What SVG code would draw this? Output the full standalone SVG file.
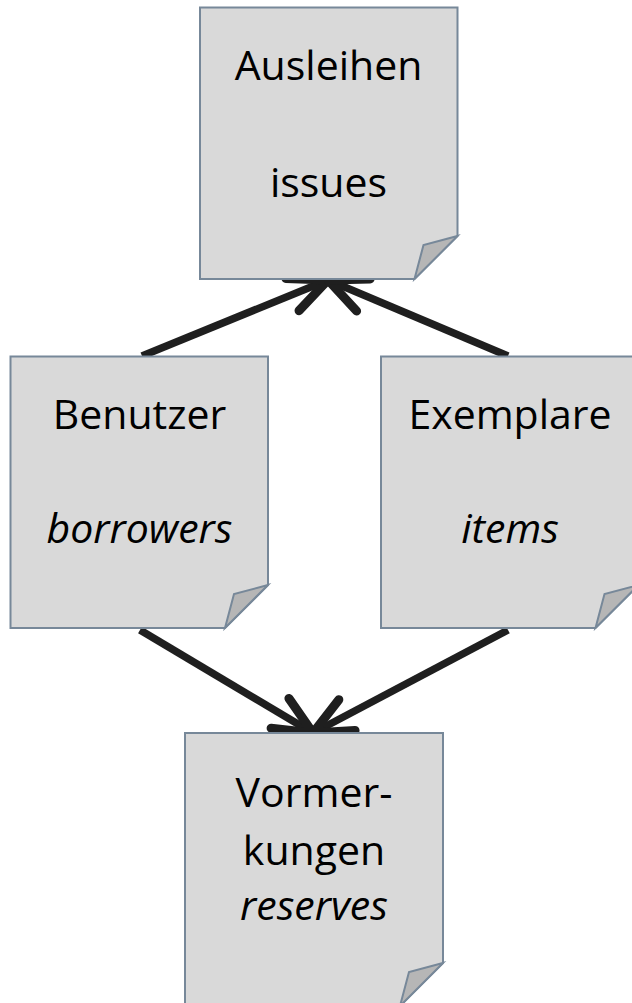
<svg xmlns="http://www.w3.org/2000/svg" width="632" height="1003" viewBox="0 0 632 1003">
  <style>
    .box { fill: #d9d9d9; stroke: #778899; stroke-width: 2; stroke-linejoin: miter; }
    .fold { fill: #b6b6b6; stroke: #778899; stroke-width: 2; stroke-linejoin: miter; }
    .t { font-family: "Open Sans", "Liberation Sans", sans-serif; font-size: 41px; fill: #000; text-anchor: middle; }
    .it { font-style: italic; }
    .conn { stroke: #1f1f1f; stroke-width: 7.5; fill: none; marker-end: url(#arrow); }
  </style>
  <defs>
    <marker id="arrow" markerUnits="userSpaceOnUse" orient="auto" refX="0" refY="0" markerWidth="60" markerHeight="60" viewBox="-40 -20 50 40" overflow="visible">
      <path d="M-32,-14.5 L0,0 L-32,14.5" fill="none" stroke="#1f1f1f" stroke-width="7.5" stroke-linecap="round" stroke-linejoin="round"/>
    </marker>
  </defs>

  <g id="connectors">
    <line class="conn" x1="142" y1="356" x2="328" y2="280"/>
    <line class="conn" x1="508" y1="356" x2="328" y2="280"/>
    <line class="conn" x1="140" y1="630" x2="313" y2="733"/>
    <line class="conn" x1="508" y1="630" x2="313" y2="733"/>
  </g>

  <g id="ausleihen">
    <path class="box" d="M200,7.5 H457.5 V236 L414.5,279 H200 Z"/>
    <path class="fold" d="M414.5,279 L423.5,245 L457.5,236 Z"/>
    <text class="t" x="328.5" y="80">Ausleihen</text>
    <text class="t" x="328.5" y="197">issues</text>
  </g>

  <g id="benutzer">
    <path class="box" d="M10.5,356.5 H268 V585 L225,628 H10.5 Z"/>
    <path class="fold" d="M225,628 L234,594 L268,585 Z"/>
    <text class="t" x="139.5" y="429">Benutzer</text>
    <text class="t it" x="139.5" y="543">borrowers</text>
  </g>

  <g id="exemplare">
    <path class="box" d="M381,356.5 H638.5 V585 L595.5,628 H381 Z"/>
    <path class="fold" d="M595.5,628 L604.5,594 L638.5,585 Z"/>
    <text class="t" x="510" y="429">Exemplare</text>
    <text class="t it" x="510" y="543">items</text>
  </g>

  <g id="vormerkungen">
    <path class="box" d="M185,733 H443 V963 L400,1006 H185 Z"/>
    <path class="fold" d="M400,1006 L409,972 L443,963 Z"/>
    <text class="t" x="314" y="807">Vormer-</text>
    <text class="t" x="314" y="865">kungen</text>
    <text class="t it" x="314" y="920">reserves</text>
  </g>
</svg>
